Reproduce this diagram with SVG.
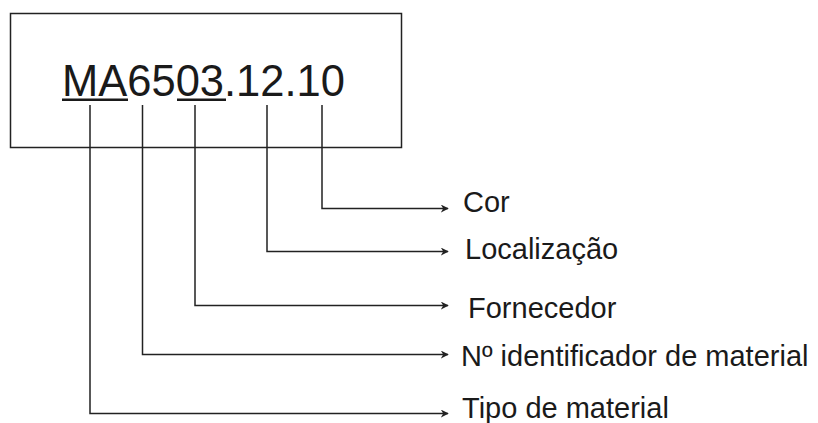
<svg xmlns="http://www.w3.org/2000/svg" width="818" height="423" viewBox="0 0 818 423">
<style>
.t{font-family:"Liberation Sans",Arial,sans-serif;fill:#1a1a1a}
.lbl{font-size:29px}
.c{fill:none;stroke:#222;stroke-width:1.5}
</style>
<defs>
<marker id="ah" viewBox="0 0 10 10" refX="9" refY="5" markerWidth="8" markerHeight="8" markerUnits="userSpaceOnUse" orient="auto">
<path d="M0,0 L10,5 L0,10 L3,5 Z" fill="#222"/>
</marker>
</defs>
<rect width="818" height="423" fill="#fff"/>
<g id="code">
<rect x="10.5" y="13.5" width="391" height="134" fill="#fff" stroke="#222" stroke-width="1.5"/>
<text class="t" x="62" y="96" font-size="43.5">MA6503.12.10</text>
<rect x="62" y="98.5" width="66" height="2.5" fill="#1a1a1a"/>
<rect x="177" y="98.5" width="49" height="2.5" fill="#1a1a1a"/>
</g>
<g id="connectors">
<path class="c" d="M322,105 V208.5 H448" marker-end="url(#ah)"/>
<path class="c" d="M267,105 V251.5 H448" marker-end="url(#ah)"/>
<path class="c" d="M195,105 V305.5 H448" marker-end="url(#ah)"/>
<path class="c" d="M142.5,105 V354.5 H448" marker-end="url(#ah)"/>
<path class="c" d="M90,105 V413.5 H448" marker-end="url(#ah)"/>
</g>
<g id="label-cor"><text class="t lbl" x="463" y="212">Cor</text></g>
<g id="label-localizacao"><text class="t lbl" x="465" y="259">Localização</text></g>
<g id="label-fornecedor"><text class="t lbl" x="468" y="318">Fornecedor</text></g>
<g id="label-identificador"><text class="t lbl" x="461" y="366">Nº identificador de material</text></g>
<g id="label-tipo"><text class="t lbl" x="462" y="418">Tipo de material</text></g>
</svg>
